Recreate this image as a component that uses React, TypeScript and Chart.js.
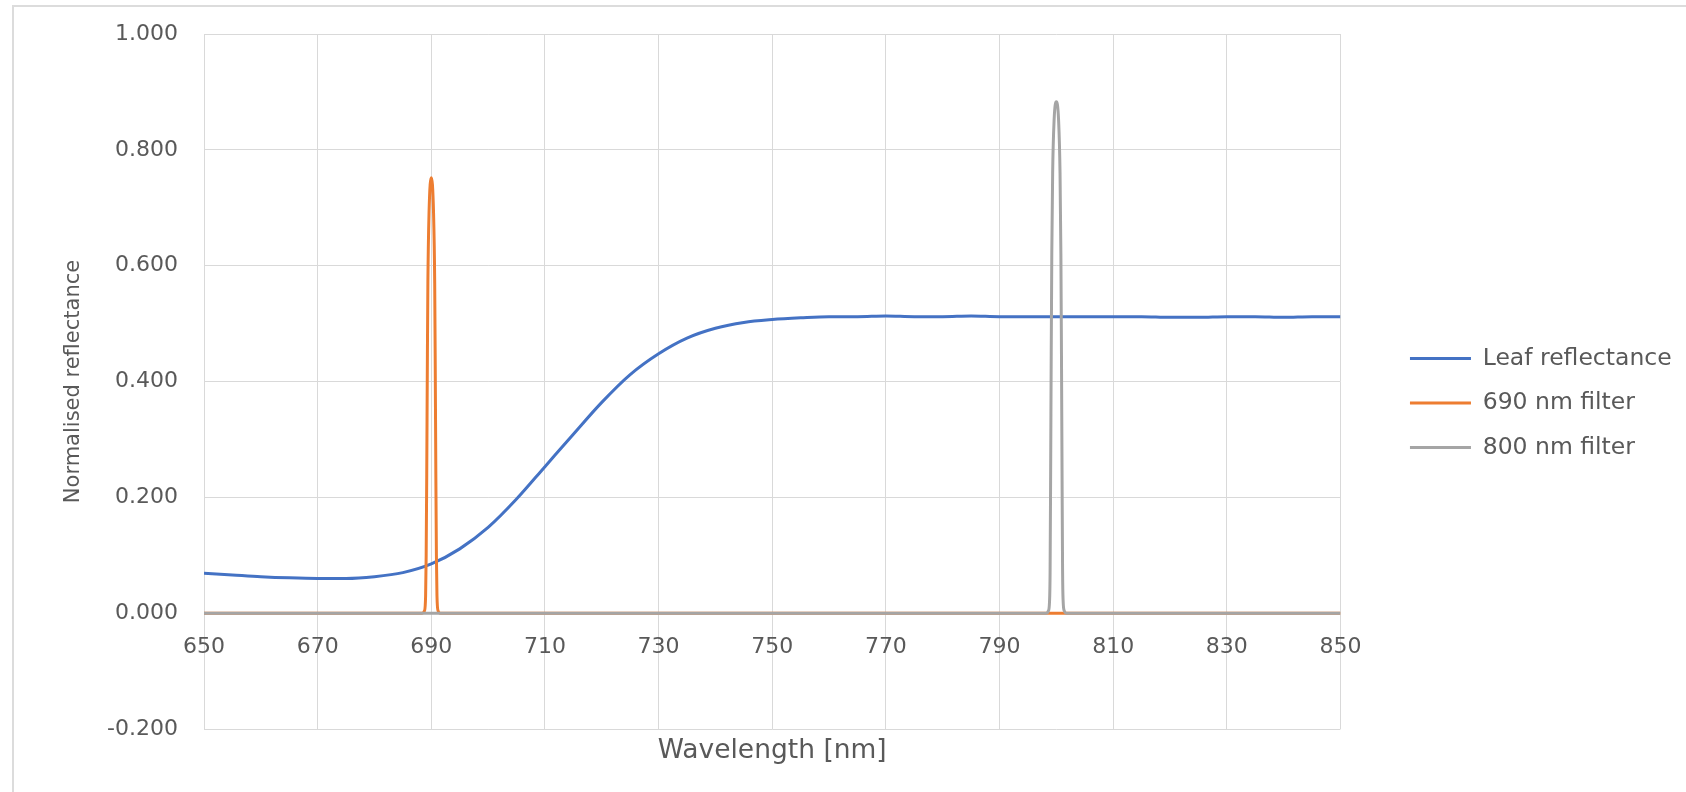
import React, { useEffect, useRef } from "react";
import { Chart, registerables } from "chart.js";

Chart.register(...registerables);

// ---- Data ----
const leafWavelengths = [
  650, 655, 660, 665, 670, 675, 680, 685, 690, 695, 700, 705, 710, 715, 720, 725, 730, 735, 740, 745,
  750, 755, 760, 765, 770, 775, 780, 785, 790, 795, 800, 805, 810, 815, 820, 825, 830, 835, 840, 845, 850,
];
const leafReflectance = [
  0.069, 0.066, 0.063, 0.061, 0.06, 0.06, 0.063, 0.07, 0.085, 0.111, 0.148, 0.197, 0.253, 0.309, 0.364,
  0.412, 0.448, 0.475, 0.492, 0.502, 0.507, 0.51, 0.512, 0.512, 0.513, 0.512, 0.512, 0.513, 0.512, 0.512,
  0.512, 0.512, 0.512, 0.512, 0.511, 0.511, 0.512, 0.512, 0.511, 0.512, 0.512,
];

const filter690Wavelengths = [
  650, 688.4, 688.8, 689.0, 689.1, 689.2, 689.3, 689.4, 689.6, 690.0, 690.4, 690.6, 690.7, 690.8, 690.9,
  691.0, 691.2, 691.6, 850,
];
const filter690Values = [
  0, 0, 0.004, 0.03, 0.1, 0.24, 0.42, 0.57, 0.69, 0.752, 0.69, 0.57, 0.42, 0.24, 0.1, 0.03, 0.004, 0, 0,
];

const filter800Wavelengths = [
  650, 798.2, 798.6, 798.8, 798.9, 799.0, 799.1, 799.2, 799.35, 799.6, 800.0, 800.4, 800.65, 800.8, 800.9,
  801.0, 801.1, 801.2, 801.4, 801.8, 850,
];
const filter800Values = [
  0, 0, 0.004, 0.02, 0.07, 0.25, 0.45, 0.62, 0.76, 0.85, 0.883, 0.85, 0.76, 0.62, 0.45, 0.25, 0.07, 0.02,
  0.004, 0, 0,
];

const xTickValues = [650, 670, 690, 710, 730, 750, 770, 790, 810, 830, 850];
const yTickValues = [-0.2, 0, 0.2, 0.4, 0.6, 0.8, 1.0];

const seriesNames = ["Leaf reflectance", "690 nm filter", "800 nm filter"];
const seriesColors = ["#4472C4", "#ED7D31", "#A5A5A5"];
const xTitle = "Wavelength [nm]";
const yTitle = "Normalised reflectance";

const FONT = "'DejaVu Sans', sans-serif";
const TEXT = "#595959";
const GRID = "#d9d9d9";

const toPoints = (xs: number[], ys: number[]) => xs.map((x, i) => ({ x, y: ys[i] }));

// widen the legend's clip box slightly so long labels are never cut
const legendUnclip = {
  id: "legendUnclip",
  afterLayout(chart: any) {
    const lg = chart.legend;
    if (lg) {
      lg.right += 30;
      lg.width += 30;
    }
  },
};

export default function App() {
  const ref = useRef<HTMLCanvasElement>(null);

  useEffect(() => {
    const common = {
      borderWidth: 3,
      pointRadius: 0,
      fill: false,
      cubicInterpolationMode: "monotone",
      borderJoinStyle: "round",
      xAxisID: "x",
      yAxisID: "y",
    };
    const chart = new Chart(ref.current as HTMLCanvasElement, {
      type: "line",
      data: {
        datasets: [
          {
            ...common,
            label: seriesNames[0],
            data: toPoints(leafWavelengths, leafReflectance),
            borderColor: seriesColors[0],
            backgroundColor: seriesColors[0],
            order: 3,
          },
          {
            ...common,
            label: seriesNames[1],
            data: toPoints(filter690Wavelengths, filter690Values),
            borderColor: seriesColors[1],
            backgroundColor: seriesColors[1],
            order: 2,
          },
          {
            ...common,
            label: seriesNames[2],
            data: toPoints(filter800Wavelengths, filter800Values),
            borderColor: seriesColors[2],
            backgroundColor: seriesColors[2],
            order: 1,
          },
        ],
      },
      plugins: [legendUnclip],
      options: {
        animation: false,
        responsive: true,
        maintainAspectRatio: false,
        layout: { padding: { top: 14, right: 19.25, bottom: 0, left: 0 } },
        plugins: {
          legend: {
            position: "right",
            align: "center",
            labels: {
              usePointStyle: true,
              pointStyle: "line",
              pointStyleWidth: 61,
              padding: 21,
              color: TEXT,
              font: { family: FONT, size: 23.5 },
              sort: (a: any, b: any) => a.datasetIndex - b.datasetIndex,
            },
          },
          tooltip: { enabled: false },
        },
        scales: {
          x: {
            type: "linear",
            min: 650,
            max: 850,
            position: { y: 0 } as any,
            afterBuildTicks: (s: any) => {
              s.ticks = xTickValues.map((v) => ({ value: v }));
            },
            ticks: {
              padding: 21,
              color: TEXT,
              font: { family: FONT, size: 22 },
              autoSkip: false,
              maxRotation: 0,
              callback: (v: any) => String(v),
            },
            grid: { color: GRID, lineWidth: 1, drawTicks: false },
            border: { display: false },
          },
          xTitle: {
            type: "linear",
            position: "bottom",
            min: 650,
            max: 850,
            ticks: { display: false },
            grid: { display: false, drawTicks: false },
            border: { display: false },
            title: {
              display: true,
              text: xTitle,
              color: TEXT,
              font: { family: FONT, size: 26.5 },
              padding: { top: 0, bottom: 25 },
            },
            afterFit: (s: any) => {
              s.height = 63;
            },
          },
          xTop: {
            type: "linear",
            position: "top",
            min: 650,
            max: 850,
            ticks: { display: false },
            grid: { display: false, drawTicks: false },
            border: { display: false },
            afterFit: (s: any) => {
              s.height = 20;
            },
          },
          y: {
            type: "linear",
            position: "left",
            min: -0.2,
            max: 1.0,
            afterBuildTicks: (s: any) => {
              s.ticks = yTickValues.map((v) => ({ value: v }));
            },
            ticks: {
              padding: 0,
              color: TEXT,
              font: { family: FONT, size: 22 },
              callback: (v: any) => Number(v).toFixed(3),
            },
            grid: {
              color: GRID,
              lineWidth: 1,
              drawTicks: true,
              tickLength: 26,
              tickColor: "rgba(0,0,0,0)",
            },
            border: { display: false },
            title: {
              display: true,
              text: yTitle,
              color: TEXT,
              font: { family: FONT, size: 21 },
              padding: { top: 61, bottom: 0 },
            },
            afterFit: (s: any) => {
              s.width = 204;
            },
          },
          yRight: {
            type: "linear",
            position: "right",
            min: -0.2,
            max: 1.0,
            ticks: { display: false },
            grid: { display: false, drawTicks: false },
            border: { display: false },
            afterFit: (s: any) => {
              s.width = 48.5;
            },
          },
        },
      } as any,
    });
    return () => chart.destroy();
  }, []);

  return (
    <>
      <div
        style={{
          position: "fixed",
          left: 12,
          top: 5,
          width: 1674,
          height: 787,
          borderTop: "2px solid #dcdcdc",
          borderLeft: "2px solid #dcdcdc",
          boxSizing: "border-box",
        }}
      />
      <div style={{ position: "fixed", left: 0, top: 0, width: 1686, height: 792 }}>
        <canvas ref={ref} />
      </div>
    </>
  );
}
